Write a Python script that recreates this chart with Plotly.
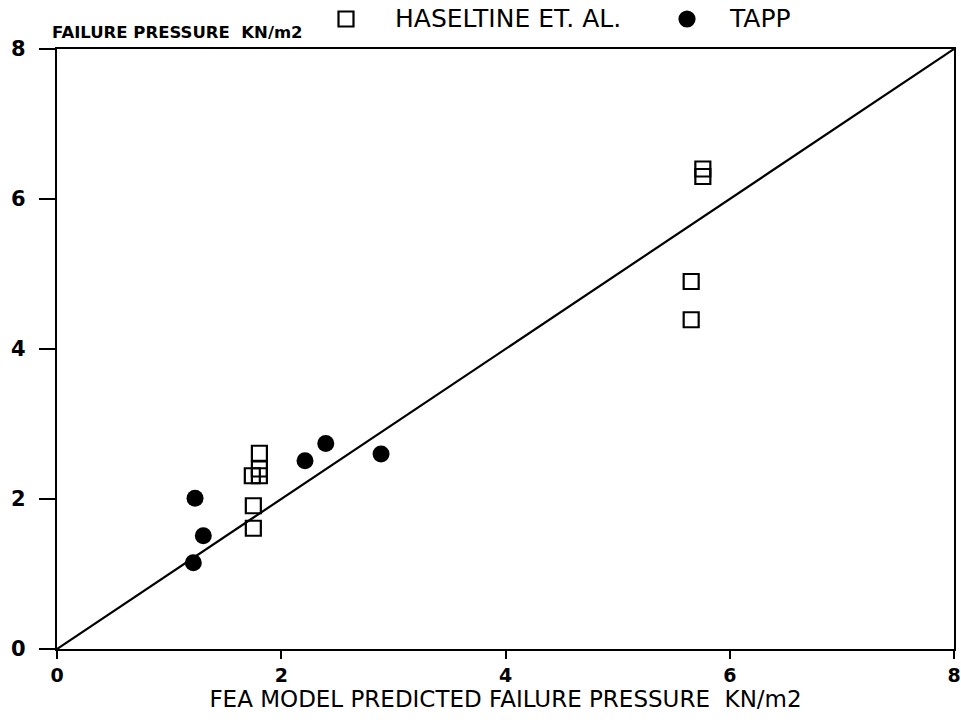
import plotly.graph_objects as go

# Haseltine et al. results: FEA predicted vs measured failure pressure (kN/m2)
haseltine_pred = [1.805, 1.805, 1.805, 1.742, 1.751, 1.751, 5.76, 5.76, 5.656, 5.656]
haseltine_meas = [2.61, 2.40, 2.31, 2.31, 1.91, 1.61, 6.40, 6.30, 4.90, 4.39]

# Tapp results
tapp_pred = [1.216, 1.305, 1.231, 2.212, 2.397, 2.890]
tapp_meas = [1.15, 1.51, 2.01, 2.51, 2.74, 2.60]

# line of equality
equal_line = [0, 8]
tick_vals = [0, 2, 4, 6, 8]

FONT = "DejaVu Sans"
W, H = 961, 723
ML, MR, MT, MB = 57, 7, 49, 74
PW, PH = W - ML - MR, H - MT - MB


def px_to_paper(px, py):
    return (px - ML) / PW, (H - MB - py) / PH


fig = go.Figure()
fig.add_trace(go.Scatter(
    x=equal_line, y=equal_line, mode="lines",
    line=dict(color="black", width=2.2), hoverinfo="skip"))
fig.add_trace(go.Scatter(
    x=haseltine_pred, y=haseltine_meas, mode="markers", name="HASELTINE ET. AL.",
    marker=dict(symbol="square-open", size=15, color="black",
                line=dict(width=2.2, color="black"))))
fig.add_trace(go.Scatter(
    x=tapp_pred, y=tapp_meas, mode="markers", name="TAPP",
    marker=dict(symbol="circle", size=17, color="black")))

axis_common = dict(
    range=[0, 8], tickvals=tick_vals, ticks="outside", tickwidth=2,
    tickcolor="black", showline=True, linecolor="black", linewidth=2.2,
    mirror=True, showgrid=False, zeroline=False, ticklabeloverflow="allow")

# legend drawn above the frame: symbol shapes plus text labels
legend_items = [("HASELTINE ET. AL.", "rect", 346, 393), ("TAPP", "circle", 687, 727)]
LEG_Y = 19
shapes, annotations = [], []
for label, kind, sx, tx in legend_items:
    half = 7.5
    x0, y0 = px_to_paper(sx - half, LEG_Y + half)
    x1, y1 = px_to_paper(sx + half, LEG_Y - half)
    shapes.append(dict(
        type=kind, xref="paper", yref="paper", x0=x0, y0=y0, x1=x1, y1=y1,
        line=dict(color="black", width=2.2),
        fillcolor="black" if kind == "circle" else "rgba(0,0,0,0)"))
    ax, ay = px_to_paper(tx, LEG_Y)
    annotations.append(dict(
        text=label, xref="paper", yref="paper", x=ax, y=ay,
        xanchor="left", yanchor="middle", showarrow=False,
        font=dict(family=FONT, size=25, color="black")))

tx, ty = px_to_paper(50, 32)
annotations.append(dict(
    text="<b>FAILURE PRESSURE  KN/m2</b>", xref="paper", yref="paper",
    x=tx, y=ty, xanchor="left", yanchor="middle",
    showarrow=False, font=dict(family=FONT, size=16.5, color="black")))

fig.update_layout(
    width=W, height=H,
    margin=dict(l=ML, r=MR, t=MT, b=MB, autoexpand=False),
    paper_bgcolor="white", plot_bgcolor="white",
    showlegend=False,
    xaxis=dict(**axis_common, ticklen=8, ticklabelstandoff=0,
               tickfont=dict(family=FONT, size=19, color="black", weight="bold"),
               title=dict(text="FEA MODEL PREDICTED FAILURE PRESSURE  KN/m2",
                          font=dict(family=FONT, size=23, color="black"),
                          standoff=6)),
    yaxis=dict(**axis_common, ticklen=16, ticklabelstandoff=9,
               tickfont=dict(family=FONT, size=21, color="black", weight="bold")),
    shapes=shapes,
    annotations=annotations,
)

fig.write_html("out.html")
